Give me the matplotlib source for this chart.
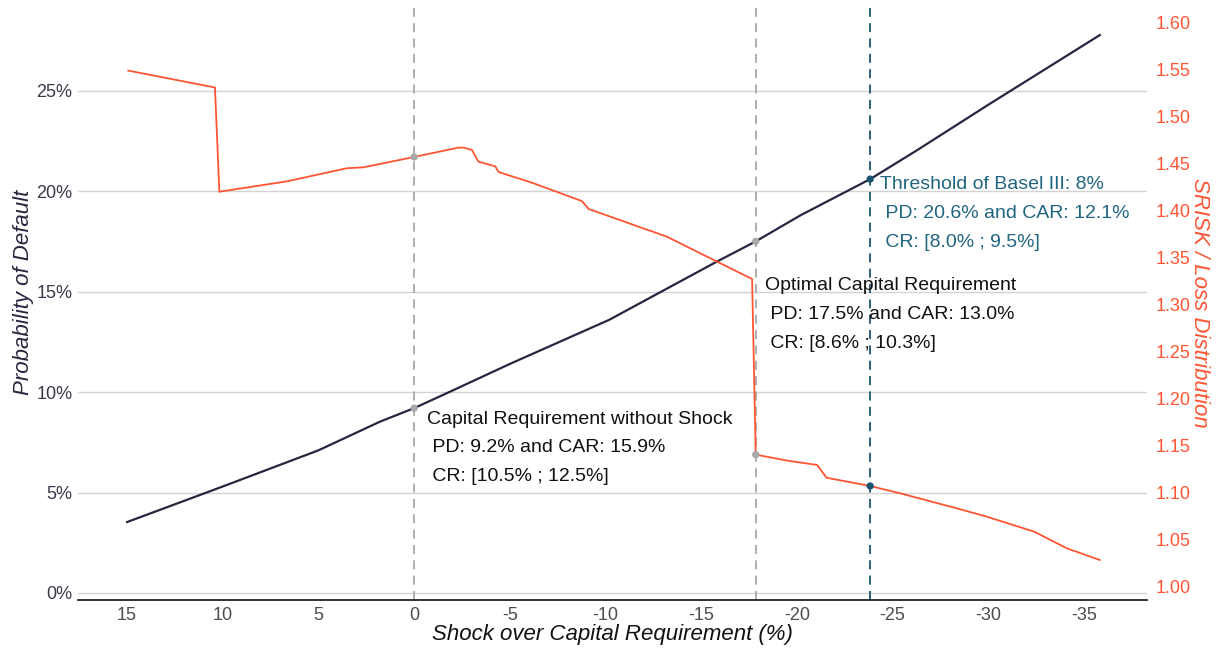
import numpy as np
import matplotlib.pyplot as plt
from matplotlib.ticker import FuncFormatter

plt.rcParams['font.family'] = ['Liberation Sans', 'DejaVu Sans']
plt.rcParams['axes.unicode_minus'] = False

# probability of default (left axis, %)
shock_pd = [15, 10, 5, 1.78, 0, -2.06, -5, -10.2, -15.83, -17.85, -20.19, -23.83, -26.3, -30, -35.83]
pd = [3.53, 5.3, 7.1, 8.53, 9.2, 10.1, 11.4, 13.6, 16.5, 17.5, 18.8, 20.6, 22.05, 24.3, 27.77]

# SRISK / loss distribution (right axis)
shock_sr = [14.94, 10.41, 10.18, 6.66, 3.52, 2.65, 0, -2.32, -2.58, -3.02, -3.36, -4.24, -4.41,
            -6.24, -8.77, -9.12, -13.22, -17.66, -17.85, -19.5, -21.06, -21.55, -23.83,
            -25.4, -28.03, -29.8, -32.4, -34.1, -35.83]
srisk = [1.549, 1.531, 1.420, 1.431, 1.445, 1.446, 1.457, 1.467, 1.467, 1.4645, 1.452, 1.447, 1.441,
         1.429, 1.410, 1.4016, 1.372, 1.327, 1.140, 1.1336, 1.129, 1.1154, 1.1066,
         1.0988, 1.0846, 1.0747, 1.058, 1.0403, 1.0278]

# marked points: no shock, optimal, Basel III
mark_x = [0, -17.85, -23.83]
mark_pd = [9.2, 17.5, 20.6]
mark_sr = [1.457, 1.140, 1.1066]
mark_col = ['#A8A8A8', '#A8A8A8', '#1B5570']
labels = ["Capital Requirement without Shock\n PD: 9.2% and CAR: 15.9%\n CR: [10.5% ; 12.5%]",
          "Optimal Capital Requirement\n PD: 17.5% and CAR: 13.0%\n CR: [8.6% ; 10.3%]",
          "Threshold of Basel III: 8%\n PD: 20.6% and CAR: 12.1%\n CR: [8.0% ; 9.5%]"]
label_pos = [(-0.68, 9.08), (-18.36, 15.72), (-24.37, 20.75)]
label_col = ['#111111', '#111111', '#1F6580']

orange = '#FF5533'
navy = '#27263F'

fig = plt.figure(figsize=(12.16, 6.48), dpi=100)
ax = fig.add_axes([0.0641, 0.0741, 0.8792, 0.9136])
ax2 = ax.twinx()

ax.plot(shock_pd, pd, color=navy, lw=1.6, zorder=3)
ax2.plot(shock_sr, srisk, color=orange, lw=1.3, zorder=3)

for x, c in zip(mark_x, mark_col):
    ax.axvline(x, color=c, ls=(0, (5, 3.5)), lw=1.3, zorder=2)
ax.scatter(mark_x, mark_pd, color=mark_col, s=18, zorder=4)
ax2.scatter(mark_x, mark_sr, color=mark_col, s=18, zorder=4)

for (tx, ty), t, c in zip(label_pos, labels, label_col):
    ax.text(tx, ty, t, ha='left', va='top', fontsize=14, color=c, linespacing=1.9, zorder=5)

ax.set_xlim(17.57, -38.3)
ax.set_ylim(-0.35, 29.12)
ax2.set_ylim(0.9852, 1.6157)
ax.set_xticks(np.arange(15, -36, -5))
ax.set_yticks(np.arange(0, 26, 5))
ax2.set_yticks(np.arange(1.0, 1.6001, 0.05))
ax.yaxis.set_major_formatter(FuncFormatter(lambda v, p: f"{v:.0f}%"))
ax2.yaxis.set_major_formatter(FuncFormatter(lambda v, p: f"{v:.2f}"))

ax.grid(axis='y', color='#D3D3D3', lw=1.0)
ax.set_axisbelow(True)
for a in (ax, ax2):
    for s in a.spines.values():
        s.set_visible(False)
ax.spines['bottom'].set_visible(True)
ax.spines['bottom'].set_color('#222222')
ax.spines['bottom'].set_linewidth(1.3)

ax.tick_params(axis='x', length=0, pad=5, labelsize=13, labelcolor='#4D4D4D')
ax.tick_params(axis='y', length=0, pad=4, labelsize=13, labelcolor='#3A3A4A')
ax2.tick_params(axis='y', length=0, pad=6, labelsize=13, labelcolor=orange)

ax.set_xlabel('Shock over Capital Requirement (%)', fontsize=16, style='italic', color='#111111', labelpad=0)
fig.text(24 / 1216, 1 - 292 / 648, 'Probability of Default', fontsize=16, style='italic', color=navy,
         rotation=90, ha='center', va='center')
fig.text(1200 / 1216, 1 - 303 / 648, 'SRISK / Loss Distribution', fontsize=16, style='italic', color=orange,
         rotation=270, ha='center', va='center')

fig.savefig('out.png', dpi=100)
